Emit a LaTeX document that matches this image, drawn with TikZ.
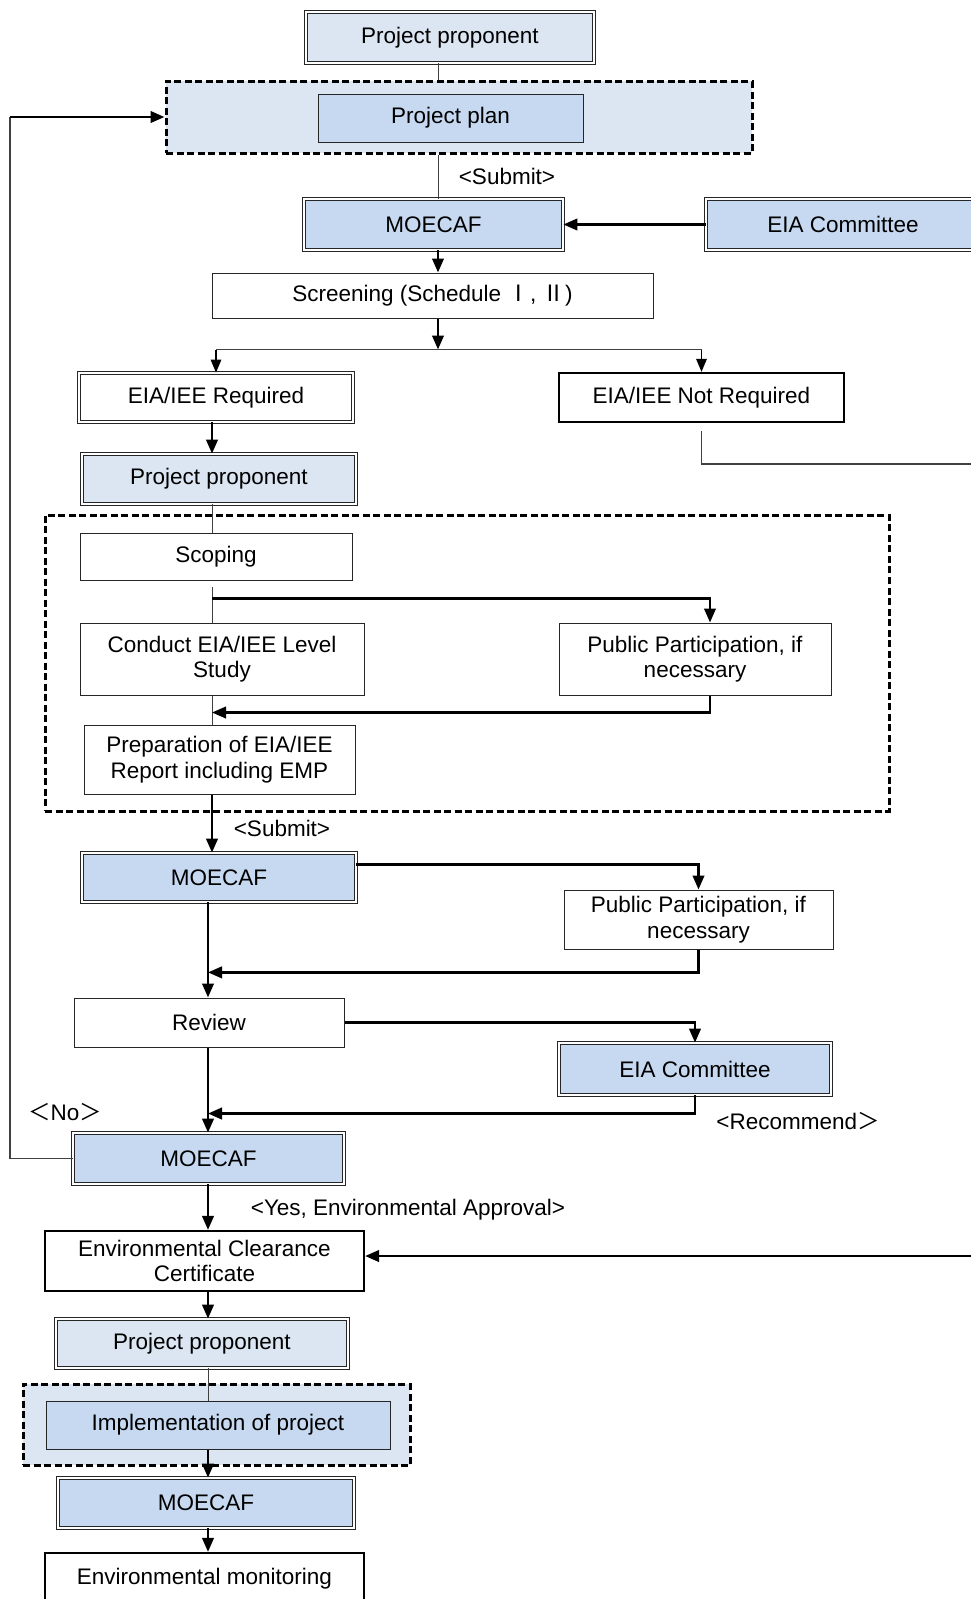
\documentclass[tikz,border=0pt]{standalone}
\usepackage{fontspec}
\setmainfont{Liberation Sans}
\newfontfamily\cjkfont{Noto Sans CJK SC}
\usetikzlibrary{arrows.meta}
\definecolor{paleblue}{HTML}{DCE6F2}
\definecolor{midblue}{HTML}{C6D9F1}

\tikzset{
    box/.style={draw=black!85, line width=0.2mm, fill=white, align=center, inner sep=0pt},
    boldbox/.style={box, draw=black, line width=0.45mm},
    dblbox/.style={box, double, double distance=0.35mm, line width=0.15mm},
    dashframe/.style={draw, line width=0.6mm, dash pattern=on 1.4mm off 0.7mm, inner sep=0pt},
    wh/.style 2 args={minimum width=#1*0.2mm, minimum height=#2*0.2mm},
    link/.style={draw=black!75, line width=0.2mm},
    arr/.style={line width=0.5mm, -{Triangle[length=2.8mm, width=2.3mm]}},
    thinarr/.style={line width=0.3mm, -{Triangle[length=2.6mm, width=2.1mm]}},
}

\begin{document}
\begin{tikzpicture}[x=0.2mm, y=-0.2mm, font=\fontsize{12.8}{14.6}\selectfont]
    % Page
    \useasboundingbox (0,0) rectangle (971,1599);
    \clip (0,0) rectangle (971,1599);

    % Dashed frames
    \node[dashframe, fill=paleblue, wh={586}{72}] (planframe) at (459,117) {};
    \node[dashframe, wh={844}{296}] (studyframe) at (467,663) {};
    \node[dashframe, fill=paleblue, wh={387}{81}] (implframe) at (216.5,1424.5) {};

    % Top part
    \node[dblbox, fill=paleblue, wh={288}{51}] (pp1) at (450,37.5) {Project proponent};
    \node[box, fill=midblue, wh={265}{48}] (plan) at (450.5,118) {Project plan};
    \node[dblbox, fill=midblue, wh={259}{51}] (moe1) at (433.5,224.5) {MOECAF};
    \node[dblbox, fill=midblue, wh={274}{51}] (eiac1) at (843,224.5) {EIA Committee};
    \node[box, wh={441}{45}] (screen) at (432.5,295.5) {Screening (Schedule {\cjkfont Ⅰ}, {\cjkfont Ⅱ})};
    \node[dblbox, wh={274}{49}] (req) at (216,397.5) {EIA/IEE Required};
    \node[boldbox, wh={285}{49}] (notreq) at (701.5,397.5) {EIA/IEE Not Required};
    \node[dblbox, fill=paleblue, wh={274}{50}] (pp2) at (219,479) {Project proponent};

    % Study
    \node[box, wh={272}{47}] (scoping) at (216,556.5) {Scoping};
    \node[box, wh={284}{72}] (conduct) at (222,659) {Conduct EIA/IEE Level\\Study};
    \node[box, wh={272}{72}] (pub1) at (695,659) {Public Participation, if\\necessary};
    \node[box, wh={271}{69}] (prep) at (219.5,759.5) {Preparation of EIA/IEE\\Report including EMP};

    % Review
    \node[dblbox, fill=midblue, wh={274}{49}] (moe2) at (219,877.5) {MOECAF};
    \node[box, wh={269}{59}] (pub2) at (698.5,919.5) {Public Participation, if\\necessary};
    \node[box, wh={270}{49}] (review) at (209,1022.5) {Review};
    \node[dblbox, fill=midblue, wh={272}{52}] (eiac2) at (695,1069) {EIA Committee};
    \node[dblbox, fill=midblue, wh={271}{51}] (moe3) at (208.5,1158.5) {MOECAF};

    % Bottom part
    \node[boldbox, wh={319}{60}] (ecc) at (204.5,1261) {Environmental Clearance\\Certificate};
    \node[dblbox, fill=paleblue, wh={292}{49}] (pp3) at (202,1343.5) {Project proponent};
    \node[box, fill=midblue, wh={344}{48}] (impl) at (218,1425) {Implementation of project};
    \node[dblbox, fill=midblue, wh={296}{50}] (moe4) at (206,1503) {MOECAF};
    \node[boldbox, wh={319}{52}] (envmon) at (204.5,1579) {Environmental monitoring};

    % Labels
    \node (submitA) at (507,176) {<Submit>};
    \node (submitB) at (282,828) {<Submit>};
    \node (no) at (65,1112) {{\cjkfont ＜}No{\cjkfont ＞}};
    \node (recommend) at (798,1121) {<Recommend{\cjkfont ＞}};
    \node (yes) at (408,1210) {<Yes, Environmental Approval>};

    % Columns the main flow runs on
    \coordinate (colT) at (438,0);
    \coordinate (colA) at (212,0);
    \coordinate (colB) at (208,0);
    \coordinate (rim) at (10,0);

    % Top connectors
    \draw[link] (colT |- pp1.south) -- (colT |- planframe.north);
    \draw[link] (colT |- planframe.south) -- (colT |- moe1.north);
    \draw[arr] (eiac1.west) -- (moe1.east);
    \draw[arr] (colT |- moe1.south) -- (colT |- screen.north);
    \draw[arr] (colT |- screen.south) -- ++(0,31) coordinate (split);
    \draw[link, line width=0.25mm] (req.north |- split) -- (notreq.north |- split);
    \draw[thinarr] (req.north |- split) -- (req.north);
    \draw[thinarr] (notreq.north |- split) -- (notreq.north);

    % Not required goes round on the right
    \coordinate (nrexit) at (975,464);
    \draw[link, line width=0.3mm] ([yshift=-1.6mm]notreq.south) |- (nrexit);
    \coordinate (eccin) at (975,1256);
    \draw[arr] (eccin) -- (ecc.east |- eccin);

    % Required
    \draw[arr] (colA |- req.south) -- (colA |- pp2.north);
    \draw[link] (colA |- pp2.south) -- (colA |- scoping.north);

    % Study connectors
    \path (colA |- scoping.south) ++(0,6) coordinate (sout);
    \draw[link] (sout) -- (colA |- conduct.north);
    \path (colA |- scoping.south) ++(0,18) coordinate (ssplit);
    \draw[arr] (ssplit) -| ([xshift=3mm]pub1.north);
    \draw[link] (colA |- conduct.south) -- (colA |- prep.north);
    \path (colA |- conduct.south) ++(0,17) coordinate (cjoin);
    \draw[arr] ([xshift=3mm]pub1.south) |- (cjoin);
    \draw[arr] (colA |- prep.south) -- (colA |- moe2.north);

    % Review connectors
    \path (moe2.east) ++(0,-13) coordinate (moeout);
    \draw[arr] (moeout) -| (pub2.north);
    \draw[arr] (colB |- moe2.south) -- (colB |- review.north);
    \path (colB |- moe2.south) ++(0,70) coordinate (rjoin);
    \draw[arr] (pub2.south) |- (rjoin);
    \draw[arr] (review.east) -| (eiac2.north);
    \draw[arr] (colB |- review.south) -- (colB |- moe3.north);
    \path (colB |- review.south) ++(0,66) coordinate (vjoin);
    \draw[arr] (eiac2.south) |- (vjoin);

    % <No> loop back to the plan
    \draw[link, line width=0.3mm] (moe3.west) -| (rim |- planframe.west);
    \draw[arr] (rim |- planframe.west) -- (planframe.west);

    % Bottom connectors
    \draw[arr] (colB |- moe3.south) -- (colB |- ecc.north);
    \draw[arr] (colB |- ecc.south) -- (colB |- pp3.north);
    \draw[link] (colB |- pp3.south) -- (colB |- impl.north);
    \draw[arr] (colB |- impl.south) -- (colB |- moe4.north);
    \draw[arr] (colB |- moe4.south) -- (colB |- envmon.north);
\end{tikzpicture}
\end{document}
